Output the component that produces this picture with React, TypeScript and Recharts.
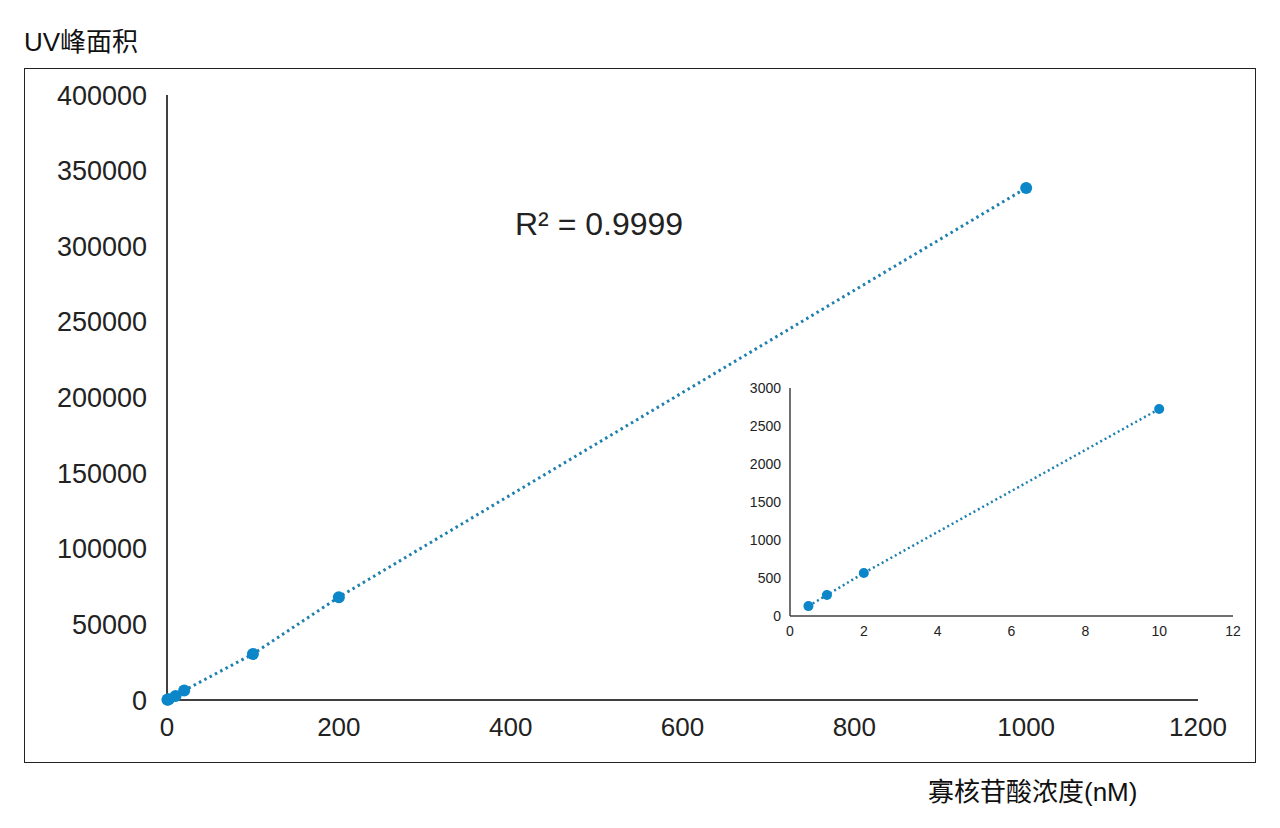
import React from 'react';
import { ScatterChart, Scatter, XAxis, YAxis } from 'recharts';

// ── Data ────────────────────────────────────────────────────────────────────
const concNM = [0.5, 1, 2, 10, 20, 100, 200, 1000];
const uvArea = [130, 276, 566, 2720, 6300, 30400, 68000, 338500];

const insetConc = [0.5, 1, 2, 10];
const insetArea = [130, 276, 566, 2724];

const mainXTicks = [0, 200, 400, 600, 800, 1000, 1200];
const mainYTicks = [0, 50000, 100000, 150000, 200000, 250000, 300000, 350000, 400000];
const insetXTicks = [0, 2, 4, 6, 8, 10, 12];
const insetYTicks = [0, 500, 1000, 1500, 2000, 2500, 3000];

const yTitle = 'UV峰面积';
const xTitle = '寡核苷酸浓度(nM)';
const r2Text = 'R² = 0.9999';

const mainData = concNM.map((x, i) => ({ x, y: uvArea[i] }));
const insetData = insetConc.map((x, i) => ({ x, y: insetArea[i] }));

const FONT = '"Liberation Sans", Arial, "Noto Sans CJK SC", sans-serif';
const AXIS = '#404040';
const DOT = '#0a86c9';
const LINE = '#1f7fae';

const dot = (r: number) => (p: any) => <circle cx={p.cx} cy={p.cy} r={r} fill={DOT} />;

export default function App() {
  return (
    <div style={{ position: 'absolute', left: 0, top: 0, width: 1280, height: 828, background: '#fff', fontFamily: FONT }}>
      {/* outer frame */}
      <div style={{ position: 'absolute', left: 24, top: 68, width: 1232, height: 695, border: '1px solid #222', boxSizing: 'border-box' }} />

      <div style={{ position: 'absolute', left: 24, top: 26, fontSize: 26, lineHeight: '32px', color: '#111' }}>{yTitle}</div>
      <div style={{ position: 'absolute', left: 928, top: 776, fontSize: 26, lineHeight: '32px', color: '#111' }}>{xTitle}</div>

      {/* ── main chart ── */}
      <div style={{ position: 'absolute', left: 0, top: 0 }}>
        <ScatterChart width={1280} height={828} margin={{ top: 95, right: 82, bottom: 0, left: 0 }}>
          <XAxis type="number" dataKey="x" domain={[0, 1200]} ticks={mainXTicks} height={128}
            axisLine={{ stroke: AXIS, strokeWidth: 2 }} tickLine={false} tickSize={0} tickMargin={18}
            tick={{ fontSize: 26, fill: '#222', fontFamily: FONT }} interval={0} />
          <YAxis type="number" dataKey="y" domain={[0, 400000]} ticks={mainYTicks} width={167}
            axisLine={{ stroke: AXIS, strokeWidth: 2 }} tickLine={false} tickSize={0} tickMargin={20}
            tick={{ fontSize: 27, fill: '#222', fontFamily: FONT }} interval={0} />
          <Scatter data={mainData} isAnimationActive={false} shape={dot(6)}
            line={{ stroke: LINE, strokeWidth: 3, strokeDasharray: '2.5 3.5' }} />
        </ScatterChart>
      </div>

      <div style={{ position: 'absolute', left: 515, top: 205, fontSize: 32, lineHeight: '38px', color: '#222' }}>{r2Text}</div>

      {/* ── inset chart ── */}
      <div style={{ position: 'absolute', left: 720, top: 370 }}>
        <ScatterChart width={540} height={280} margin={{ top: 18, right: 27, bottom: 0, left: 0 }}>
          <XAxis type="number" dataKey="x" domain={[0, 12]} ticks={insetXTicks} height={34}
            axisLine={{ stroke: AXIS, strokeWidth: 1.5 }} tickLine={false} tickSize={0} tickMargin={10}
            tick={{ fontSize: 14, fill: '#222', fontFamily: FONT }} interval={0} />
          <YAxis type="number" dataKey="y" domain={[0, 3000]} ticks={insetYTicks} width={70}
            axisLine={{ stroke: AXIS, strokeWidth: 1.5 }} tickLine={false} tickSize={0} tickMargin={9}
            tick={{ fontSize: 14, fill: '#222', fontFamily: FONT }} interval={0} />
          <Scatter data={insetData} isAnimationActive={false} shape={dot(5)}
            line={{ stroke: LINE, strokeWidth: 2.5, strokeDasharray: '2 3' }} />
        </ScatterChart>
      </div>
    </div>
  );
}
